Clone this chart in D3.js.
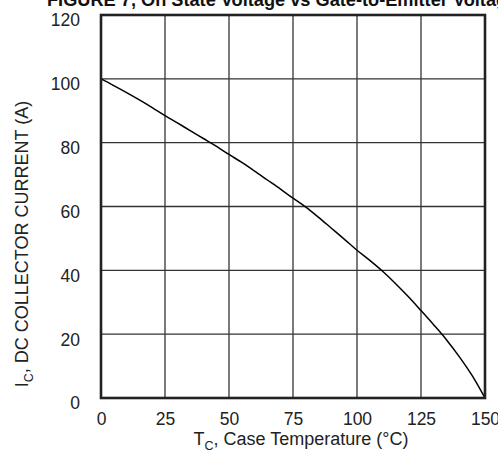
<!DOCTYPE html>
<html>
<head>
<meta charset="utf-8">
<script src="https://cdn.jsdelivr.net/npm/d3@7"></script>
<style>
  html, body { margin: 0; padding: 0; background: #fff; }
  svg { display: block; font-family: "Liberation Sans", Arial, sans-serif; }
</style>
</head>
<body>
<svg id="chart" width="498" height="451"></svg>
<script>
// Data
const temperature = [0, 5, 10, 15, 20, 25, 30, 35, 40, 45, 50, 55, 60, 65, 70, 75, 80, 85, 90, 95, 100, 105, 110, 115, 120, 125, 130, 135, 140, 145, 150];
const current =     [100, 97.9, 95.7, 93.4, 91.0, 88.5, 86.1, 83.7, 81.3, 78.9, 76.3, 73.8, 71.1, 68.3, 65.5, 62.6, 59.8, 56.6, 53.2, 49.8, 46.3, 43.1, 39.7, 35.9, 31.8, 27.4, 22.9, 18.2, 12.9, 7.0, 0];
const xTicks = [0, 25, 50, 75, 100, 125, 150];
const yTicks = [0, 20, 40, 60, 80, 100, 120];
const titleText = "FIGURE 7,  On State Voltage vs Gate-to-Emitter Voltage";

const svg = d3.select("#chart");
const pLeft = 101, pRight = 485, pTop = 15, pBottom = 398;

const x = d3.scaleLinear().domain([0, 150]).range([pLeft, pRight]);
const y = d3.scaleLinear().domain([0, 120]).range([pBottom, pTop]);

// Title (clipped at top and right, as in the reference)
svg.append("text")
  .attr("x", 47).attr("y", 6)
  .attr("font-weight", "bold")
  .attr("font-size", 18.2)
  .attr("fill", "#111")
  .text(titleText);

// Grid
const grid = svg.append("g").attr("stroke", "#333").attr("stroke-width", 1.3);
grid.selectAll("line.v").data(xTicks.slice(1, -1)).join("line")
  .attr("x1", d => x(d)).attr("x2", d => x(d))
  .attr("y1", pTop).attr("y2", pBottom);
grid.selectAll("line.h").data(yTicks.slice(1, -1)).join("line")
  .attr("x1", pLeft).attr("x2", pRight)
  .attr("y1", d => y(d)).attr("y2", d => y(d));

// Curve
const line = d3.line().x((d, i) => x(temperature[i])).y(d => y(d)).curve(d3.curveMonotoneX);
svg.append("path")
  .datum(current)
  .attr("d", line)
  .attr("fill", "none")
  .attr("stroke", "#000")
  .attr("stroke-width", 1.5);

// Frame
svg.append("rect")
  .attr("x", pLeft).attr("y", pTop)
  .attr("width", pRight - pLeft).attr("height", pBottom - pTop)
  .attr("fill", "none").attr("stroke", "#222").attr("stroke-width", 2.6);

// Axes
const xAxis = d3.axisBottom(x).tickValues(xTicks).tickSize(0).tickPadding(14.5);
const gx = svg.append("g").attr("transform", `translate(0,${pBottom})`).call(xAxis);
gx.select(".domain").remove();
gx.selectAll("text").attr("font-size", 17.5).attr("fill", "#222").attr("font-family", "Liberation Sans, Arial, sans-serif");

const yAxis = d3.axisLeft(y).tickValues(yTicks).tickSize(0).tickPadding(21);
const gy = svg.append("g").attr("transform", `translate(${pLeft},0)`).call(yAxis);
gy.select(".domain").remove();
gy.selectAll("text").attr("font-size", 17.5).attr("fill", "#222")
  .attr("dy", "0.62em").attr("font-family", "Liberation Sans, Arial, sans-serif");

// X axis title
const xt = svg.append("text")
  .attr("x", 301).attr("y", 445)
  .attr("text-anchor", "middle")
  .attr("font-size", 18).attr("fill", "#222");
xt.append("tspan").text("T");
xt.append("tspan").attr("font-size", 12.5).attr("dy", 5).text("C");
xt.append("tspan").attr("dy", -5).text(", Case Temperature (°C)");

// Y axis title
const yt = svg.append("text")
  .attr("transform", "translate(28,244) rotate(-90)")
  .attr("text-anchor", "middle")
  .attr("font-size", 18).attr("fill", "#222");
yt.append("tspan").text("I");
yt.append("tspan").attr("font-size", 12.5).attr("dy", 5).text("C");
yt.append("tspan").attr("dy", -5).text(", DC COLLECTOR CURRENT (A)");
</script>
</body>
</html>
